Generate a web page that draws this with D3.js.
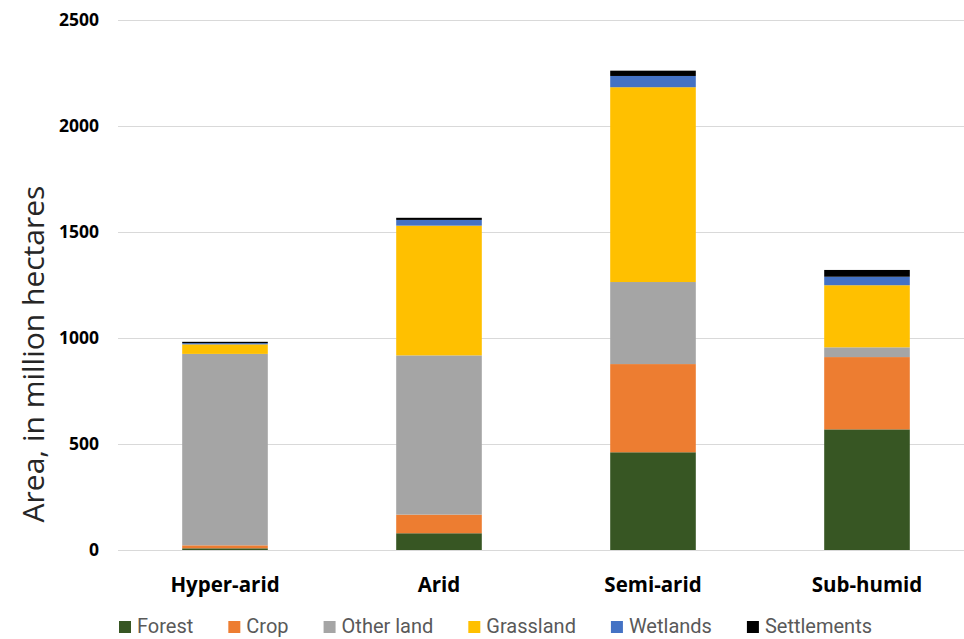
<!DOCTYPE html>
<html>
<head>
<meta charset="utf-8">
<script src="https://cdn.jsdelivr.net/npm/d3@7"></script>
<style>
  html, body { margin: 0; padding: 0; background: #fff; }
  svg { display: block; }
</style>
</head>
<body>
<svg id="chart" width="964" height="639"></svg>
<script>
// Drylands land-use areas (million hectares)
const categories = ["Hyper-arid", "Arid", "Semi-arid", "Sub-humid"];
const seriesNames = ["Forest", "Crop", "Other land", "Grassland", "Wetlands", "Settlements"];
const forest      = [8, 79, 461, 569];
const crop        = [14, 88, 416, 341];
const otherLand   = [903, 751, 387, 46];
const grassland   = [45, 612, 919, 293];
const wetlands    = [6, 27, 53, 40];
const settlements = [6, 10, 25, 32];
const yTicks = [0, 500, 1000, 1500, 2000, 2500];
const colors = ["#375623", "#ED7D31", "#A5A5A5", "#FFC000", "#4472C4", "#000000"];

const seriesValues = [forest, crop, otherLand, grassland, wetlands, settlements];
const rows = categories.map((c, i) => {
  const r = { category: c };
  seriesNames.forEach((s, k) => { r[s] = seriesValues[k][i]; });
  return r;
});

const svg = d3.select("#chart");
const margin = { left: 118, right: 0 };
const W = 974;

const x = d3.scaleBand().domain(categories)
  .range([margin.left, W - margin.right])
  .paddingInner(0.6).paddingOuter(0.3);
const y = d3.scaleLinear().domain([0, 2500]).range([550, 20]);

// Gridlines
svg.append("g").selectAll("line").data(yTicks).join("line")
  .attr("x1", margin.left).attr("x2", 964)
  .attr("y1", d => Math.round(y(d)) + 0.5).attr("y2", d => Math.round(y(d)) + 0.5)
  .attr("stroke", "#d9d9d9").attr("stroke-width", 1);

// Y tick labels
const yAxis = d3.axisLeft(y).tickValues(yTicks).tickFormat(d3.format("d"))
  .tickSize(0).tickPadding(0);
const ya = svg.append("g").attr("transform", "translate(99,0)").call(yAxis);
ya.select(".domain").remove();
ya.selectAll("text")
  .attr("font-family", "'Open Sans', sans-serif")
  .attr("font-weight", "bold").attr("font-size", 17.5).attr("fill", "#000");

// Stacked bars
const stack = d3.stack().keys(seriesNames)(rows);
svg.append("g").selectAll("g").data(stack).join("g")
  .attr("fill", (d, i) => colors[i])
  .selectAll("rect").data(d => d).join("rect")
  .attr("x", d => x(d.data.category))
  .attr("width", x.bandwidth())
  .attr("y", d => y(d[1]))
  .attr("height", d => y(d[0]) - y(d[1]));

// Category labels
const xAxis = d3.axisBottom(x).tickSize(0).tickPadding(0);
const xa = svg.append("g").attr("transform", "translate(0,592)").call(xAxis);
xa.select(".domain").remove();
xa.selectAll("text")
  .attr("dy", 0)
  .attr("font-family", "'Open Sans', sans-serif")
  .attr("font-weight", "bold").attr("font-size", 20.5).attr("fill", "#000");

// Y axis title
svg.append("text")
  .attr("transform", "translate(44,354) rotate(-90)")
  .attr("text-anchor", "middle")
  .attr("font-family", "'Open Sans', sans-serif")
  .attr("font-size", 30).attr("fill", "#262626")
  .text("Area, in million hectares");

// Legend, spread across the plot width
const legend = svg.append("g");
const items = legend.selectAll("g").data(seriesNames).join("g");
items.append("rect").attr("width", 12).attr("height", 12).attr("y", -12)
  .attr("fill", (d, i) => colors[i]);
items.append("text").attr("x", 18).attr("y", 0)
  .attr("font-family", "Roboto, 'Open Sans', sans-serif")
  .attr("font-size", 20).attr("fill", "#595959")
  .text(d => d);
const widths = [];
items.each(function () { widths.push(18 + d3.select(this).select("text").node().getComputedTextLength()); });
const legendLeft = 119, legendRight = 872;
const gap = (legendRight - legendLeft - d3.sum(widths)) / (widths.length - 1);
let cx = legendLeft;
items.each(function (d, i) {
  d3.select(this).attr("transform", `translate(${cx},633)`);
  cx += widths[i] + gap;
});
</script>
</body>
</html>
